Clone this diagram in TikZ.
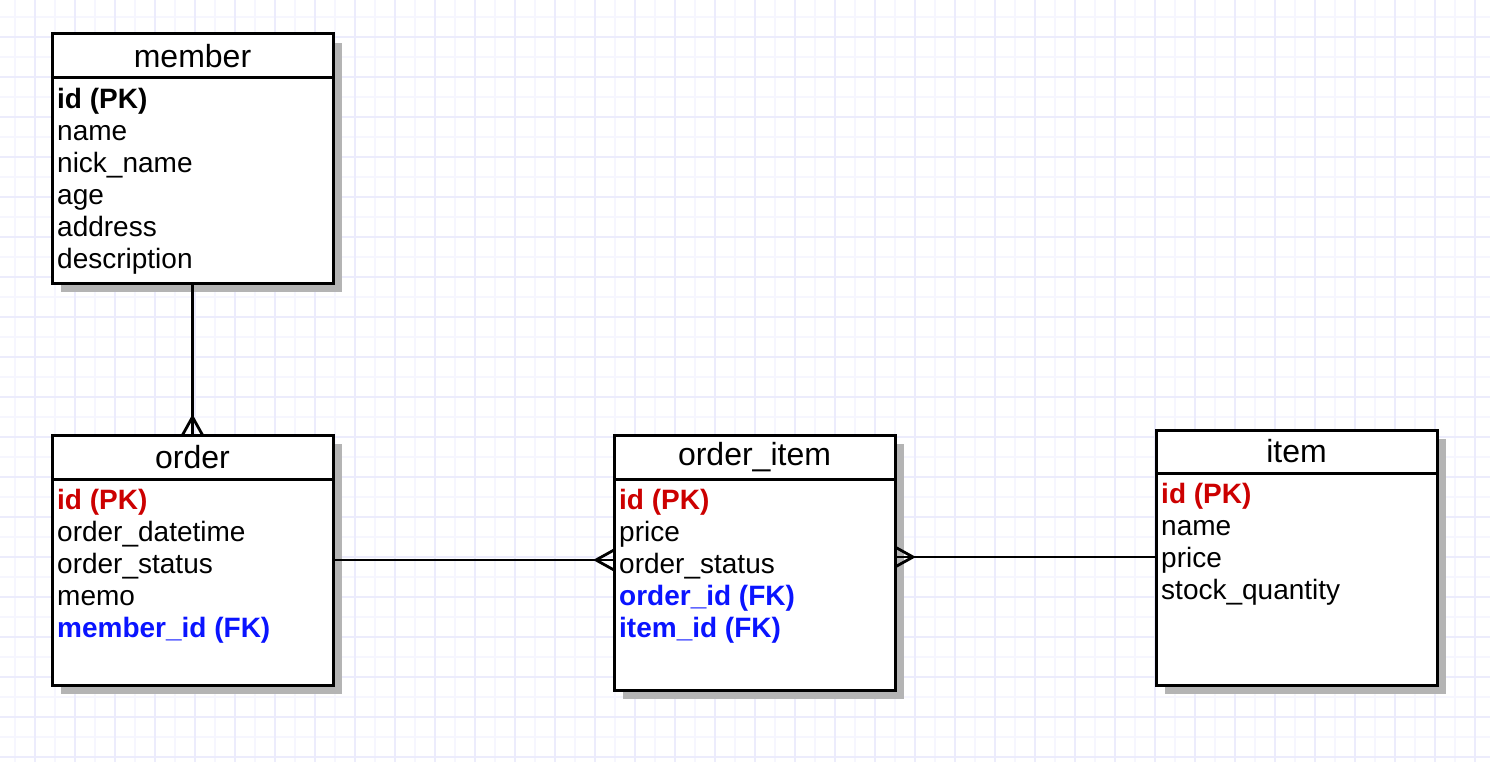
\documentclass[tikz,border=0pt]{standalone}
\usepackage{fontspec}
\setmainfont{Liberation Sans}
\usetikzlibrary{positioning,shadows}

\definecolor{pkred}{RGB}{204,0,0}
\definecolor{fkblue}{RGB}{10,20,255}
\definecolor{gridminor}{RGB}{246,246,254}
\definecolor{gridmajor}{RGB}{236,236,252}
\definecolor{shadowgray}{RGB}{180,180,180}

\newcommand{\pkey}[1]{\textcolor{pkred}{\bfseries #1}}
\newcommand{\fkey}[1]{\textcolor{fkblue}{\bfseries #1}}

\tikzset{
  head/.style={draw, line width=3pt, fill=white, outer sep=0pt, inner sep=0pt,
    minimum width=281pt, minimum height=44pt, font=\fontsize{32}{36}\selectfont,
    drop shadow={shadow xshift=9pt, shadow yshift=-9pt, fill=shadowgray, opacity=1}},
  body/.style={head, minimum height=#1},
  fields/.style={inner sep=0pt, align=left, font=\fontsize{28}{32}\selectfont},
  rel/.style={line width=2.8pt},
}

\begin{document}
\begin{tikzpicture}[x=1pt, y=-1pt]
\useasboundingbox (0,0) rectangle (1490,762);
\fill[white] (0,0) rectangle (1490,762);
% grid
\foreach \gx in {15,55,...,1495} \draw[gridminor, line width=2pt] (\gx,0) -- (\gx,762);
\foreach \gy in {17,57,...,777} \draw[gridminor, line width=2pt] (0,\gy) -- (1490,\gy);
\foreach \gx in {35,75,...,1495} \draw[gridmajor, line width=2pt] (\gx,0) -- (\gx,762);
\foreach \gy in {37,77,...,777} \draw[gridmajor, line width=2pt] (0,\gy) -- (1490,\gy);

% member
\node[head] (member) at (192.5,56) {member};
\node[body=205pt, below=0pt of member] (memberbody) {};
\node[fields, below right=7.6pt and 5pt of memberbody.north west] (memberfields)
  {\strut\textbf{id (PK)}\\name\\nick\_name\\age\\address\\description};

% order
\node[head] (order) at (192.5,457) {order};
\node[body=206pt, below=0pt of order] (orderbody) {};
\node[fields, below right=7.6pt and 5pt of orderbody.north west] (orderfields)
  {\strut\pkey{id (PK)}\\order\_datetime\\order\_status\\memo\\\fkey{member\_id (FK)}};

% order_item
\node[head] (orderitem) at (754.5,457) {order\_item};
\node[body=211pt, below=0pt of orderitem] (orderitembody) {};
\node[fields, below right=7.6pt and 5pt of orderitembody.north west] (orderitemfields)
  {\strut\pkey{id (PK)}\\price\\order\_status\\\fkey{order\_id (FK)}\\\fkey{item\_id (FK)}};

% item
\node[head, minimum height=43pt] (item) at (1296.5,451.5) {item};
\node[body=212pt, below=0pt of item] (itembody) {};
\node[fields, below right=7.6pt and 5pt of itembody.north west] (itemfields)
  {\strut\pkey{id (PK)}\\name\\price\\stock\_quantity};

% relations
\draw[rel] (memberbody.south) -- (order.north);
\draw[rel] (order.north) ++(-10,0) -- ++(10,-18) -- ++(10,18);

\coordinate (orderlink) at ([yshift=22pt]orderbody.east);
\draw[rel] (orderlink) -- (orderlink -| orderitembody.west);
\draw[rel] (orderlink -| orderitembody.west) ++(0,-10) -- ++(-18,10) -- ++(18,10);

\coordinate (itemlink) at ([yshift=22pt]itembody.west);
\draw[rel] (itemlink) -- (itemlink -| orderitembody.east);
\draw[rel] (itemlink -| orderitembody.east) ++(0,-10) -- ++(18,10) -- ++(-18,10);
\end{tikzpicture}
\end{document}
